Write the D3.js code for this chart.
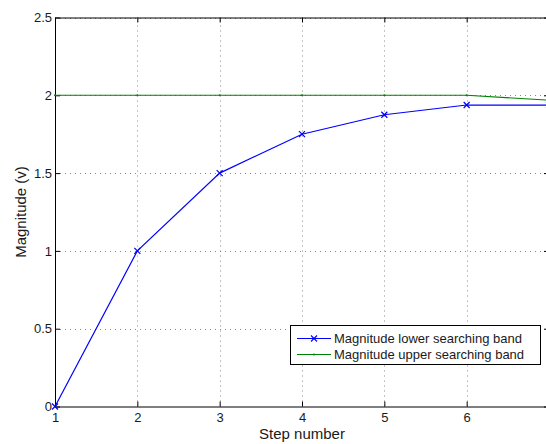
<!DOCTYPE html>
<html><head><meta charset="utf-8">
<script src="https://cdn.jsdelivr.net/npm/d3@7"></script>
<style>
html,body{margin:0;padding:0;background:#fff;overflow:hidden;}
svg{display:block;font-family:Arial,"Liberation Sans",Helvetica,sans-serif;}
</style></head>
<body>
<svg id="chart" width="546" height="444"></svg>
<script>
const steps = [1, 2, 3, 4, 5, 6, 7];
const lowerBand = [0, 1, 1.5, 1.75, 1.875, 1.9375, 1.9375];
const upperBand = [2, 2, 2, 2, 2, 2, 1.96875];
const xTicks = [1, 2, 3, 4, 5, 6];
const yTicks = [0, 0.5, 1, 1.5, 2, 2.5];
const seriesNames = ["Magnitude lower searching band", "Magnitude upper searching band"];
const seriesColors = ["#0000ff", "#008000"];

const svg = d3.select("#chart");
const x = d3.scaleLinear().domain([1, 7]).range([55, 549]);
const y = d3.scaleLinear().domain([0, 2.5]).range([406.5, 17.5]);
const x0 = x.range()[0], x1 = x.range()[1], y0 = y.range()[0], y1 = y.range()[1];

// grid
const grid = svg.append("g").attr("stroke", "#8a8a8a").attr("stroke-width", 1).attr("stroke-dasharray", "1,4");
grid.selectAll("line.gx").data(xTicks.slice(1)).join("line")
  .attr("x1", d => Math.round(x(d)) + 0.5).attr("x2", d => Math.round(x(d)) + 0.5)
  .attr("y1", y0).attr("y2", y1);
grid.selectAll("line.gy").data(yTicks.slice(1)).join("line")
  .attr("y1", d => Math.round(y(d)) + 0.5).attr("y2", d => Math.round(y(d)) + 0.5)
  .attr("x1", x0).attr("x2", x1);

// axes (ticks inward)
const fmt = d => String(d);
const axB = svg.append("g").attr("transform", `translate(0,${y0})`)
  .call(d3.axisBottom(x).tickValues(xTicks).tickFormat(fmt).tickSizeInner(-5).tickSizeOuter(0).tickPadding(6));
const axT = svg.append("g").attr("transform", `translate(0,${y1})`)
  .call(d3.axisTop(x).tickValues(xTicks).tickFormat("").tickSizeInner(-5).tickSizeOuter(0));
const axL = svg.append("g").attr("transform", `translate(${x0},0)`)
  .call(d3.axisLeft(y).tickValues(yTicks).tickFormat(fmt).tickSizeInner(-5).tickSizeOuter(0).tickPadding(3));
const axR = svg.append("g").attr("transform", `translate(${x1},0)`)
  .call(d3.axisRight(y).tickValues(yTicks).tickFormat("").tickSizeInner(-5).tickSizeOuter(0));
[axB, axT, axL, axR].forEach(a => {
  a.selectAll(".domain").attr("stroke", "#000").attr("stroke-width", 1);
  a.selectAll(".tick line").attr("stroke", "#000");
  a.selectAll("text").attr("fill", "#1a1a1a").style("font-size", "13px").style("font-family", "Arial, 'Liberation Sans', sans-serif");
});

// lines
const line = d3.line().x((d, i) => x(steps[i])).y(d => y(d));
svg.append("path").datum(upperBand).attr("fill", "none").attr("stroke", seriesColors[1]).attr("stroke-width", 1.1).attr("d", line);
svg.selectAll("circle.up").data(upperBand).join("circle")
  .attr("cx", (d, i) => x(steps[i])).attr("cy", d => y(d)).attr("r", 1).attr("fill", seriesColors[1]);
svg.append("path").datum(lowerBand).attr("fill", "none").attr("stroke", seriesColors[0]).attr("stroke-width", 1.2).attr("d", line);
const xm = 3;
const cross = (cx, cy) => `M${cx - xm},${cy - xm}L${cx + xm},${cy + xm}M${cx - xm},${cy + xm}L${cx + xm},${cy - xm}`;
svg.selectAll("path.lo").data(lowerBand).join("path")
  .attr("d", (d, i) => cross(x(steps[i]), y(d))).attr("stroke", seriesColors[0]).attr("stroke-width", 1.2).attr("fill", "none");

// axis labels
svg.append("text").attr("x", (x0 + x1) / 2).attr("y", 439).attr("text-anchor", "middle")
  .style("font-size", "15px").attr("fill", "#1a1a1a").text("Step number");
svg.append("text").attr("transform", `translate(26,${(y0 + y1) / 2}) rotate(-90)`).attr("text-anchor", "middle")
  .style("font-size", "15px").attr("fill", "#1a1a1a").text("Magnitude (v)");

// legend
const lg = svg.append("g");
lg.append("rect").attr("x", 290.5).attr("y", 325.5).attr("width", 250).attr("height", 39)
  .attr("fill", "#fff").attr("stroke", "#000").attr("stroke-width", 1);
const rows = [338.5, 354.5];
seriesNames.forEach((name, i) => {
  lg.append("line").attr("x1", 297).attr("x2", 331).attr("y1", rows[i]).attr("y2", rows[i])
    .attr("stroke", seriesColors[i]).attr("stroke-width", 1.1);
  if (i === 0) {
    lg.append("path").attr("d", cross(314, rows[i])).attr("stroke", seriesColors[i]).attr("stroke-width", 1.1);
  } else {
    lg.append("circle").attr("cx", 314).attr("cy", rows[i]).attr("r", 1).attr("fill", seriesColors[i]);
  }
  lg.append("text").attr("x", 334).attr("y", rows[i]).attr("dy", "0.35em")
    .style("font-size", "13px").attr("fill", "#1a1a1a").text(name);
});
</script>
</body></html>
